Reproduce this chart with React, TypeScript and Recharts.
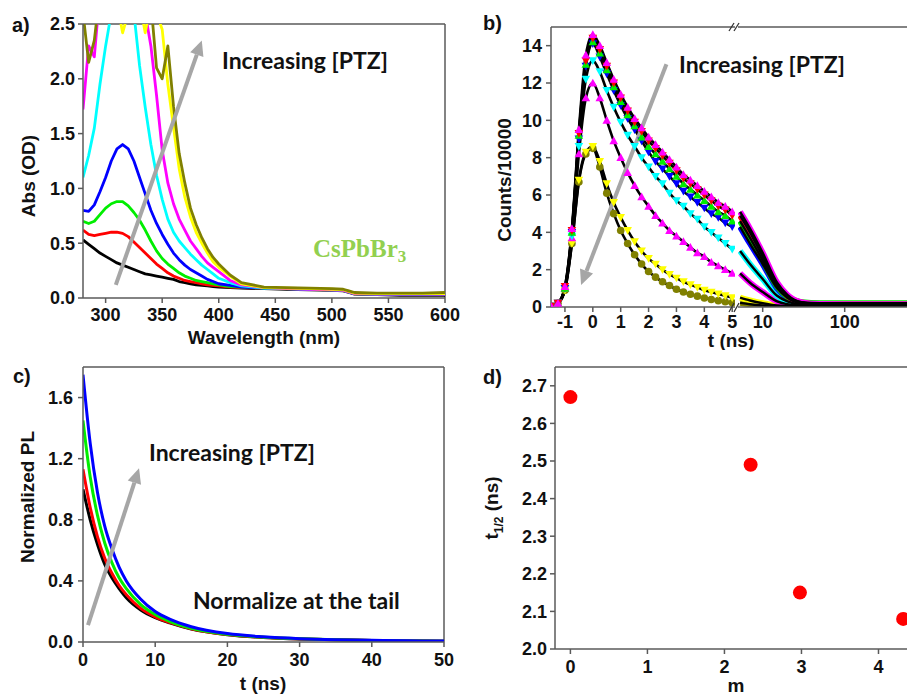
import React from 'react';
import {
  LineChart,
  Line,
  XAxis,
  YAxis,
  ReferenceLine,
  ScatterChart,
  Scatter,
  ComposedChart,
} from 'recharts';

const SANS = '"Liberation Sans", Arial, Helvetica, sans-serif';
const CALIBRI = 'Lato, "Open Sans", sans-serif';
const AXIS_COLOR = '#5a5a5a';
const ARROW_COLOR = '#a6a6a6';

// ---------- Panel a: absorbance ----------
const WAVELENGTHS = [280, 285, 290, 295, 300, 305, 310, 315, 320, 325, 330, 335, 340, 345, 350, 355, 360, 365, 370, 375, 380, 385, 390, 395, 400, 410, 420, 440, 460, 480, 500, 510, 515, 520, 540, 560, 580, 600];
const ABS_BLACK = [0.53, 0.49, 0.45, 0.41, 0.38, 0.35, 0.32, 0.30, 0.28, 0.26, 0.24, 0.22, 0.21, 0.20, 0.19, 0.18, 0.17, 0.15, 0.14, 0.13, 0.12, 0.115, 0.11, 0.105, 0.10, 0.095, 0.09, 0.085, 0.08, 0.075, 0.07, 0.065, 0.05, 0.035, 0.03, 0.025, 0.025, 0.025];
const ABS_RED = [0.62, 0.58, 0.57, 0.58, 0.59, 0.60, 0.60, 0.59, 0.56, 0.51, 0.46, 0.41, 0.36, 0.31, 0.27, 0.23, 0.20, 0.18, 0.16, 0.15, 0.14, 0.13, 0.12, 0.115, 0.11, 0.10, 0.095, 0.09, 0.085, 0.08, 0.075, 0.07, 0.055, 0.04, 0.035, 0.035, 0.035, 0.035];
const ABS_GREEN = [0.70, 0.68, 0.70, 0.76, 0.82, 0.86, 0.88, 0.88, 0.84, 0.78, 0.71, 0.62, 0.52, 0.43, 0.36, 0.31, 0.27, 0.23, 0.20, 0.18, 0.16, 0.15, 0.14, 0.13, 0.12, 0.105, 0.10, 0.09, 0.085, 0.08, 0.075, 0.07, 0.055, 0.04, 0.035, 0.035, 0.035, 0.04];
const ABS_BLUE = [0.80, 0.79, 0.85, 0.97, 1.10, 1.25, 1.36, 1.40, 1.36, 1.25, 1.10, 0.95, 0.80, 0.68, 0.58, 0.49, 0.41, 0.35, 0.30, 0.26, 0.23, 0.20, 0.17, 0.15, 0.13, 0.115, 0.10, 0.09, 0.085, 0.08, 0.075, 0.07, 0.055, 0.04, 0.035, 0.035, 0.035, 0.035];
const ABS_CYAN = [1.10, 1.30, 1.55, 1.95, 2.30, 2.60, 2.80, 2.70, 2.90, 2.60, 2.12, 1.74, 1.40, 1.12, 0.90, 0.72, 0.60, 0.52, 0.46, 0.40, 0.35, 0.30, 0.26, 0.22, 0.18, 0.14, 0.11, 0.09, 0.085, 0.08, 0.075, 0.07, 0.055, 0.04, 0.035, 0.035, 0.035, 0.035];
const ABS_MAGENTA = [1.72, 2.30, 2.20, 2.80, 3.00, 3.00, 3.00, 3.00, 3.00, 2.90, 2.70, 2.60, 2.30, 1.85, 1.35, 1.05, 0.86, 0.72, 0.62, 0.52, 0.45, 0.38, 0.32, 0.28, 0.24, 0.16, 0.12, 0.095, 0.085, 0.08, 0.075, 0.07, 0.055, 0.04, 0.035, 0.035, 0.035, 0.035];
const ABS_YELLOW = [2.70, 2.80, 2.90, 3.00, 2.90, 2.80, 2.70, 2.42, 2.60, 2.80, 2.70, 2.42, 2.70, 2.60, 2.45, 1.95, 1.56, 1.18, 0.92, 0.74, 0.60, 0.50, 0.41, 0.33, 0.28, 0.20, 0.13, 0.095, 0.09, 0.085, 0.08, 0.075, 0.06, 0.045, 0.04, 0.04, 0.04, 0.04];
const ABS_OLIVE = [2.60, 2.15, 2.35, 2.80, 3.00, 3.00, 3.00, 3.00, 3.00, 3.00, 2.90, 2.80, 2.70, 2.10, 2.00, 2.30, 1.75, 1.32, 1.05, 0.82, 0.67, 0.55, 0.45, 0.37, 0.31, 0.21, 0.14, 0.10, 0.095, 0.09, 0.085, 0.08, 0.065, 0.05, 0.045, 0.045, 0.045, 0.05];

const ABS_SERIES = [
  { key: 'black', color: '#000000', values: ABS_BLACK },
  { key: 'red', color: '#ff0000', values: ABS_RED },
  { key: 'green', color: '#00ee00', values: ABS_GREEN },
  { key: 'blue', color: '#0000ff', values: ABS_BLUE },
  { key: 'cyan', color: '#00ffff', values: ABS_CYAN },
  { key: 'magenta', color: '#ff00ff', values: ABS_MAGENTA },
  { key: 'yellow', color: '#ffff00', values: ABS_YELLOW },
  { key: 'olive', color: '#808000', values: ABS_OLIVE },
];
const absRows = WAVELENGTHS.map((wl, i) => {
  const r: Record<string, number> = { wl };
  ABS_SERIES.forEach((s) => (r[s.key] = s.values[i]));
  return r;
});

// ---------- Panel b: TRPL decays ----------
const T_LIN = [-1.5, -1.25, -1, -0.75, -0.5, -0.25, 0, 0.25, 0.5, 0.75, 1, 1.25, 1.5, 1.75, 2, 2.25, 2.5, 2.75, 3, 3.25, 3.5, 3.75, 4, 4.25, 4.5, 4.75, 5];
const T_LOG = [5.3, 7, 10, 15, 20, 30, 50, 100, 200, 700];

const PL1_LIN = [0.05, 0.2, 1.1, 4.2, 9.5, 13.5, 14.6, 14.0, 13.1, 12.2, 11.4, 10.7, 10.1, 9.6, 9.1, 8.7, 8.3, 7.9, 7.5, 7.1, 6.8, 6.5, 6.2, 5.9, 5.6, 5.4, 5.1];
const PL2_LIN = [0.05, 0.2, 1.1, 4.1, 9.3, 13.2, 14.4, 13.8, 12.9, 12.0, 11.2, 10.5, 9.9, 9.4, 8.9, 8.5, 8.1, 7.7, 7.3, 6.9, 6.6, 6.3, 6.0, 5.7, 5.4, 5.2, 4.9];
const PL3_LIN = [0.05, 0.2, 1.0, 4.0, 9.2, 13.0, 14.2, 13.6, 12.7, 11.8, 11.0, 10.3, 9.7, 9.1, 8.6, 8.2, 7.8, 7.4, 7.0, 6.6, 6.3, 6.0, 5.7, 5.4, 5.1, 4.9, 4.6];
const PL4_LIN = [0.05, 0.2, 1.0, 4.0, 9.0, 12.9, 14.1, 13.4, 12.5, 11.6, 10.8, 10.1, 9.5, 8.9, 8.3, 7.8, 7.4, 7.0, 6.6, 6.2, 5.9, 5.6, 5.3, 5.0, 4.8, 4.5, 4.3];
const PL5_LIN = [0.05, 0.2, 1.0, 3.8, 8.6, 12.2, 13.2, 12.6, 11.6, 10.7, 9.9, 9.2, 8.6, 8.0, 7.5, 7.0, 6.6, 6.1, 5.7, 5.4, 5.0, 4.7, 4.3, 4.0, 3.7, 3.4, 3.1];
const PL6_LIN = [0.05, 0.2, 1.0, 3.7, 8.2, 11.2, 12.0, 11.2, 10.0, 8.9, 8.0, 7.2, 6.5, 5.9, 5.4, 4.9, 4.5, 4.1, 3.8, 3.5, 3.2, 2.9, 2.7, 2.4, 2.2, 2.0, 1.8];
const PL7_LIN = [0.05, 0.2, 0.9, 3.4, 6.8, 8.3, 8.6, 7.8, 6.6, 5.6, 4.8, 4.1, 3.5, 3.0, 2.6, 2.3, 2.0, 1.75, 1.55, 1.35, 1.2, 1.05, 0.9, 0.8, 0.7, 0.6, 0.5];
const PL8_LIN = [0.05, 0.2, 0.9, 3.4, 6.7, 8.2, 8.5, 7.5, 6.1, 5.0, 4.1, 3.4, 2.8, 2.3, 1.9, 1.6, 1.35, 1.15, 0.95, 0.8, 0.68, 0.58, 0.48, 0.4, 0.34, 0.28, 0.23];

const PL1_LOG = [5.1, 4.2, 2.9, 1.3, 0.65, 0.25, 0.16, 0.15, 0.15, 0.15];
const PL2_LOG = [4.9, 4.0, 2.7, 1.2, 0.6, 0.23, 0.14, 0.13, 0.13, 0.13];
const PL3_LOG = [4.6, 3.7, 2.5, 1.1, 0.55, 0.26, 0.2, 0.2, 0.2, 0.2];
const PL4_LOG = [4.3, 3.4, 2.3, 1.0, 0.5, 0.2, 0.12, 0.12, 0.12, 0.12];
const PL5_LOG = [3.0, 2.3, 1.5, 0.6, 0.3, 0.12, 0.08, 0.08, 0.08, 0.08];
const PL6_LOG = [1.8, 1.3, 0.8, 0.3, 0.15, 0.07, 0.05, 0.05, 0.05, 0.05];
const PL7_LOG = [0.5, 0.35, 0.2, 0.08, 0.05, 0.03, 0.03, 0.03, 0.03, 0.03];
const PL8_LOG = [0.22, 0.15, 0.08, 0.04, 0.03, 0.02, 0.02, 0.02, 0.02, 0.02];

type MarkerKind = 'up' | 'down' | 'circle';
const TRPL = [
  { key: 'p1', color: '#ff00ff', kind: 'up' as MarkerKind, lin: PL1_LIN, log: PL1_LOG },
  { key: 'p2', color: '#ff0000', kind: 'down' as MarkerKind, lin: PL2_LIN, log: PL2_LOG },
  { key: 'p3', color: '#00ee00', kind: 'up' as MarkerKind, lin: PL3_LIN, log: PL3_LOG },
  { key: 'p4', color: '#0000ff', kind: 'down' as MarkerKind, lin: PL4_LIN, log: PL4_LOG },
  { key: 'p5', color: '#00ffff', kind: 'down' as MarkerKind, lin: PL5_LIN, log: PL5_LOG },
  { key: 'p6', color: '#ff00ff', kind: 'up' as MarkerKind, lin: PL6_LIN, log: PL6_LOG },
  { key: 'p7', color: '#ffff00', kind: 'down' as MarkerKind, lin: PL7_LIN, log: PL7_LOG },
  { key: 'p8', color: '#808000', kind: 'circle' as MarkerKind, lin: PL8_LIN, log: PL8_LOG },
];
const trplLinRows = T_LIN.map((t, i) => {
  const r: Record<string, number> = { t };
  TRPL.forEach((s) => (r[s.key] = s.lin[i]));
  return r;
});
const trplLogRows = T_LOG.map((t, i) => {
  const r: Record<string, number> = { t };
  TRPL.forEach((s) => (r[s.key] = s.log[i]));
  return r;
});

// ---------- Panel c: normalized PL ----------
const T_NORM = [0, 1, 2, 3, 4, 5, 6, 8, 10, 12, 15, 20, 25, 30, 35, 40, 45, 50];
const NORM_BLACK = [1.0, 0.8, 0.64, 0.51, 0.42, 0.35, 0.29, 0.21, 0.16, 0.125, 0.085, 0.048, 0.03, 0.02, 0.014, 0.01, 0.007, 0.005];
const NORM_RED = [1.13, 0.88, 0.69, 0.55, 0.45, 0.37, 0.31, 0.22, 0.165, 0.128, 0.087, 0.049, 0.03, 0.02, 0.014, 0.01, 0.007, 0.005];
const NORM_GREEN = [1.45, 1.08, 0.83, 0.65, 0.52, 0.42, 0.35, 0.245, 0.18, 0.135, 0.09, 0.05, 0.031, 0.021, 0.014, 0.01, 0.007, 0.005];
const NORM_BLUE = [1.75, 1.3, 0.98, 0.76, 0.61, 0.49, 0.4, 0.28, 0.2, 0.15, 0.1, 0.055, 0.034, 0.022, 0.015, 0.011, 0.008, 0.006];
const NORM_SERIES = [
  { key: 'black', color: '#000000', values: NORM_BLACK },
  { key: 'red', color: '#ff0000', values: NORM_RED },
  { key: 'green', color: '#00ee00', values: NORM_GREEN },
  { key: 'blue', color: '#0000ff', values: NORM_BLUE },
];
const normRows = T_NORM.map((t, i) => {
  const r: Record<string, number> = { t };
  NORM_SERIES.forEach((s) => (r[s.key] = s.values[i]));
  return r;
});

// ---------- Panel d: half-lives ----------
const M_VALUES = [0, 2.34, 2.98, 4.32];
const T_HALF = [2.67, 2.49, 2.15, 2.08];
const halfRows = M_VALUES.map((m, i) => ({ m, th: T_HALF[i] }));

// ---------- shared styling ----------
const tickStyle = { fontSize: 18, fontWeight: 700, fill: '#111', fontFamily: SANS };
const titleStyle: React.CSSProperties = { fontSize: 19, fontWeight: 700, fill: '#111', fontFamily: SANS };

const axisBase = (tickMargin: number) => ({
  axisLine: { stroke: AXIS_COLOR, strokeWidth: 1.5 },
  tickLine: { stroke: AXIS_COLOR, strokeWidth: 1.5 },
  tickSize: 5,
  tickMargin,
  tick: tickStyle,
  allowDataOverflow: true,
});

const xTitle = (content: React.ReactNode, cx: number, baseline: number) => () => (
  <text x={cx} y={baseline} textAnchor="middle" style={titleStyle}>
    {content}
  </text>
);
const yTitle = (content: React.ReactNode, bx: number, cy: number) => () => (
  <text x={bx} y={cy} textAnchor="middle" transform={`rotate(-90 ${bx} ${cy})`} style={titleStyle}>
    {content}
  </text>
);

const arrowShape = (p: any) => {
  const { x1, y1, x2, y2 } = p;
  if ([x1, y1, x2, y2].some((v) => typeof v !== 'number' || isNaN(v))) return <g />;
  const dx = x2 - x1;
  const dy = y2 - y1;
  const len = Math.hypot(dx, dy) || 1;
  const ux = dx / len;
  const uy = dy / len;
  const head = 15;
  const half = 7;
  const bx = x2 - ux * head;
  const by = y2 - uy * head;
  const px = -uy;
  const py = ux;
  return (
    <g>
      <line x1={x1} y1={y1} x2={bx} y2={by} stroke={ARROW_COLOR} strokeWidth={4} />
      <polygon
        points={`${x2},${y2} ${bx + px * half},${by + py * half} ${bx - px * half},${by - py * half}`}
        fill={ARROW_COLOR}
      />
    </g>
  );
};

const marker = (color: string, kind: MarkerKind, id: string) => (p: any) => {
  const { cx, cy, index } = p;
  const key = `mk-${id}-${index}`;
  if (typeof cx !== 'number' || typeof cy !== 'number' || isNaN(cy)) return <g key={key} />;
  const s = 4.3;
  if (kind === 'circle') return <circle key={key} cx={cx} cy={cy} r={3.8} fill={color} />;
  const d =
    kind === 'up'
      ? `M${cx},${cy - s}L${cx + s},${cy + s * 0.8}L${cx - s},${cy + s * 0.8}Z`
      : `M${cx},${cy + s}L${cx + s},${cy - s * 0.8}L${cx - s},${cy - s * 0.8}Z`;
  return <path key={key} d={d} fill={color} />;
};

const frame = { stroke: AXIS_COLOR, strokeWidth: 1.5 };

function PanelA() {
  return (
    <LineChart width={465} height={350} data={absRows} margin={{ top: 24, right: 20, bottom: 2, left: 0 }}>
      <XAxis
        dataKey="wl"
        type="number"
        domain={[280, 600]}
        ticks={[300, 350, 400, 450, 500, 550, 600]}
        height={50}
        {...axisBase(5)}
        label={xTitle('Wavelength (nm)', 264, 344)}
      />
      <YAxis
        type="number"
        domain={[0, 2.5]}
        ticks={[0, 0.5, 1, 1.5, 2, 2.5]}
        tickFormatter={(v: number) => v.toFixed(1)}
        width={83}
        {...axisBase(3)}
        label={yTitle('Abs (OD)', 35, 176)}
      />
      <ReferenceLine y={2.5} {...frame} />
      <ReferenceLine x={600} {...frame} />
      {ABS_SERIES.map((s) => (
        <Line
          key={s.key}
          dataKey={s.key}
          type="linear"
          stroke={s.color}
          strokeWidth={2.8}
          strokeLinejoin="round"
          dot={false}
          activeDot={false}
          isAnimationActive={false}
        />
      ))}
      <ReferenceLine
        segment={[{ x: 309, y: 0.12 }, { x: 385, y: 2.35 }]}
        shape={arrowShape}
        ifOverflow="visible"
      />
    </LineChart>
  );
}

function PanelBLinear() {
  return (
    <ComposedChart width={305} height={350} data={trplLinRows} margin={{ top: 27, right: 35, bottom: 3, left: 0 }}>
      <XAxis
        dataKey="t"
        type="number"
        domain={[-1.5, 5.1]}
        ticks={[-1, 0, 1, 2, 3, 4, 5]}
        height={40}
        {...axisBase(3)}
        label={xTitle('t (ns)', 266, 347)}
      />
      <YAxis
        type="number"
        domain={[0, 15]}
        ticks={[0, 2, 4, 6, 8, 10, 12, 14]}
        width={86}
        {...axisBase(4)}
        label={yTitle('Counts/10000', 46, 180)}
      />
      <ReferenceLine y={15} {...frame} />
      {[...TRPL].reverse().map((s) => (
        <Line
          key={`m-${s.key}`}
          dataKey={s.key}
          stroke="none"
          dot={marker(s.color, s.kind, s.key)}
          activeDot={false}
          isAnimationActive={false}
        />
      ))}
      {TRPL.map((s) => (
        <Line
          key={`f-${s.key}`}
          dataKey={s.key}
          type="monotone"
          stroke="#000"
          strokeWidth={2.6}
          dot={false}
          activeDot={false}
          isAnimationActive={false}
        />
      ))}
      <ReferenceLine
        segment={[{ x: 2.64, y: 13.0 }, { x: -0.42, y: 1.18 }]}
        shape={arrowShape}
        ifOverflow="visible"
      />
    </ComposedChart>
  );
}

function PanelBLog() {
  return (
    <ComposedChart width={190} height={350} data={trplLogRows} margin={{ top: 27, right: 6, bottom: 3, left: 8 }}>
      <XAxis
        dataKey="t"
        type="number"
        scale="log"
        domain={[5, 700]}
        ticks={[10, 100]}
        height={40}
        {...axisBase(3)}
      />
      <YAxis hide type="number" domain={[0, 15]} allowDataOverflow />
      <ReferenceLine y={15} {...frame} />
      {[...TRPL].reverse().map((s) => (
        <Line
          key={`c-${s.key}`}
          dataKey={s.key}
          type="monotone"
          stroke={s.color}
          strokeWidth={6}
          dot={false}
          activeDot={false}
          isAnimationActive={false}
        />
      ))}
      {TRPL.map((s) => (
        <Line
          key={`k-${s.key}`}
          dataKey={s.key}
          type="monotone"
          stroke="#000"
          strokeWidth={2.4}
          dot={false}
          activeDot={false}
          isAnimationActive={false}
        />
      ))}
    </ComposedChart>
  );
}

function PanelC() {
  return (
    <LineChart width={465} height={346} data={normRows} margin={{ top: 17, right: 21, bottom: 4, left: 0 }}>
      <XAxis
        dataKey="t"
        type="number"
        domain={[0, 50]}
        ticks={[0, 10, 20, 30, 40, 50]}
        height={50}
        {...axisBase(6)}
        label={xTitle('t (ns)', 263, 340)}
      />
      <YAxis
        type="number"
        domain={[0, 1.8]}
        ticks={[0, 0.4, 0.8, 1.2, 1.6]}
        tickFormatter={(v: number) => v.toFixed(1)}
        width={83}
        {...axisBase(5)}
        label={yTitle('Normalized PL', 34, 147)}
      />
      <ReferenceLine y={1.8} {...frame} />
      <ReferenceLine x={50} {...frame} />
      {NORM_SERIES.map((s) => (
        <Line
          key={s.key}
          dataKey={s.key}
          type="monotone"
          stroke={s.color}
          strokeWidth={3}
          dot={false}
          activeDot={false}
          isAnimationActive={false}
        />
      ))}
      <ReferenceLine
        segment={[{ x: 0.69, y: 0.11 }, { x: 7.76, y: 1.137 }]}
        shape={arrowShape}
        ifOverflow="visible"
      />
    </LineChart>
  );
}

function PanelD() {
  return (
    <ScatterChart width={455} height={346} margin={{ top: 17, right: 3, bottom: 7, left: 0 }}>
      <XAxis
        dataKey="m"
        type="number"
        domain={[-0.2, 4.5]}
        ticks={[0, 1, 2, 3, 4]}
        height={40}
        {...axisBase(6)}
        label={xTitle('m', 271, 342)}
      />
      <YAxis
        dataKey="th"
        type="number"
        domain={[2.0, 2.75]}
        ticks={[2.0, 2.1, 2.2, 2.3, 2.4, 2.5, 2.6, 2.7]}
        tickFormatter={(v: number) => v.toFixed(1)}
        width={90}
        {...axisBase(3)}
        label={yTitle(
          <>
            <tspan>t</tspan>
            <tspan fontSize={12} dy={5}>1/2</tspan>
            <tspan dy={-5}> (ns)</tspan>
          </>,
          33,
          158
        )}
      />
      <ReferenceLine y={2.75} {...frame} />
      <Scatter
        data={halfRows}
        fill="#ff0000"
        isAnimationActive={false}
        shape={(p: any) => <circle cx={p.cx} cy={p.cy} r={7} fill="#ff0000" />}
      />
    </ScatterChart>
  );
}

const letterStyle: React.CSSProperties = { fontSize: 20, fontWeight: 700, fontFamily: SANS, fill: '#111' };
const noteStyle: React.CSSProperties = { fontSize: 23, fontWeight: 700, fontFamily: CALIBRI, fill: '#111' };

export default function App() {
  return (
    <div
      style={{
        position: 'absolute',
        left: 0,
        top: 0,
        width: 907,
        height: 696,
        overflow: 'hidden',
        background: '#fff',
      }}
    >
      <div style={{ position: 'absolute', left: 0, top: 0 }}>
        <PanelA />
      </div>
      <div style={{ position: 'absolute', left: 465, top: 0 }}>
        <PanelBLinear />
      </div>
      <div style={{ position: 'absolute', left: 730, top: 0 }}>
        <PanelBLog />
      </div>
      <div style={{ position: 'absolute', left: 0, top: 350, background: '#fff', width: 465, height: 346 }}>
        <PanelC />
      </div>
      <div style={{ position: 'absolute', left: 465, top: 350, background: '#fff', width: 455, height: 346 }}>
        <PanelD />
      </div>
      <svg
        width={907}
        height={696}
        style={{ position: 'absolute', left: 0, top: 0, pointerEvents: 'none' }}
      >
        <text x={12} y={32} style={letterStyle}>a)</text>
        <text x={483} y={30} style={letterStyle}>b)</text>
        <text x={13} y={383} style={letterStyle}>c)</text>
        <text x={483} y={384} style={letterStyle}>d)</text>

        <text x={222} y={69} style={noteStyle}>Increasing [PTZ]</text>
        <text x={679} y={73} style={noteStyle}>Increasing [PTZ]</text>
        <text x={149} y={461} style={noteStyle}>Increasing [PTZ]</text>
        <text x={193} y={609} style={noteStyle}>Normalize at the tail</text>

        <text x={313} y={257} style={{ fontSize: 25, fontWeight: 700, fontFamily: '"Liberation Serif", "DejaVu Serif", serif', fill: '#92d050' }}>
          CsPbBr<tspan fontSize={17} dy={5}>3</tspan>
        </text>

        <g stroke="#333" strokeWidth={1.3}>
          <rect x={735.5} y={20} width={2} height={14} fill="#fff" stroke="none" />
          <line x1={729} y1={31} x2={734} y2={23} />
          <line x1={734} y1={31} x2={739} y2={23} />
          <rect x={735.5} y={300} width={2} height={14} fill="#fff" stroke="none" />
          <line x1={729} y1={312} x2={734} y2={303} />
          <line x1={734} y1={312} x2={739} y2={303} />
        </g>
      </svg>
    </div>
  );
}
